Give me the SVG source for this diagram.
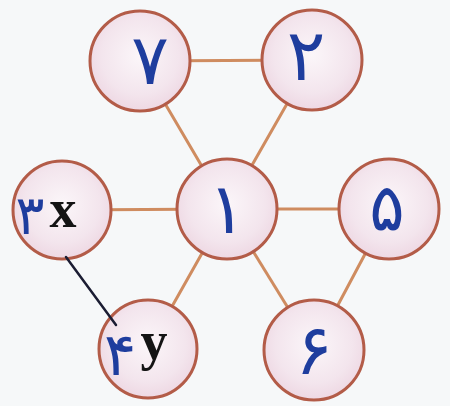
<svg xmlns="http://www.w3.org/2000/svg" width="450" height="406" viewBox="0 0 450 406">
  <defs>
    <radialGradient id="fillG" cx="50%" cy="45%" r="55%">
      <stop offset="0" stop-color="#fbf6f9"/>
      <stop offset="0.7" stop-color="#f3e5ed"/>
      <stop offset="1" stop-color="#eed8e3"/>
    </radialGradient>
    <style>
      .edge { stroke: #cf8c60; stroke-width: 3; fill: none; stroke-linecap: round; }
      .pen { stroke: #1b1d33; stroke-width: 2.5; fill: none; stroke-linecap: round; }
      .node { fill: url(#fillG); stroke: #b35c48; stroke-width: 3; }
      .digit { font-family: "DejaVu Sans", "Noto Sans", sans-serif; font-weight: normal; fill: #1e3d9e; text-anchor: middle; }
      .var { font-family: "Liberation Serif", "Times New Roman", serif; font-weight: bold; fill: #141414; text-anchor: middle; }
    </style>
  </defs>
  <rect width="450" height="406" fill="#f6f8f9"/>
  <g id="connectors">
    <line class="edge" x1="140" y1="61" x2="312" y2="60"/>
    <line class="edge" x1="140" y1="61" x2="227" y2="209"/>
    <line class="edge" x1="312" y1="60" x2="227" y2="209"/>
    <line class="edge" x1="62" y1="210" x2="227" y2="209"/>
    <line class="edge" x1="227" y1="209" x2="389" y2="209"/>
    <line class="edge" x1="227" y1="209" x2="148" y2="349"/>
    <line class="edge" x1="227" y1="209" x2="314" y2="350"/>
    <line class="edge" x1="389" y1="209" x2="314" y2="350"/>
  </g>
  <g id="node-7">
    <circle class="node" cx="140" cy="61" r="50"/>
    <text class="digit" x="150" y="84" font-size="70">۷</text>
  </g>
  <g id="node-2">
    <circle class="node" cx="312" cy="60" r="50"/>
    <text class="digit" x="306" y="80" font-size="72">۲</text>
  </g>
  <g id="node-3x">
    <circle class="node" cx="62" cy="210" r="49"/>
    <text class="digit" x="30" y="234" font-size="54">۳</text>
    <text class="var" x="63" y="227" font-size="54">x</text>
  </g>
  <g id="node-1">
    <circle class="node" cx="227" cy="209" r="50"/>
    <text class="digit" x="227" y="233" font-size="70">۱</text>
  </g>
  <g id="node-5">
    <circle class="node" cx="389" cy="209" r="50"/>
    <text class="digit" x="387" y="230" font-size="66">۵</text>
  </g>
  <g id="node-4y">
    <circle class="node" cx="148" cy="349" r="49"/>
    <text class="digit" x="120" y="375" font-size="60">۴</text>
    <text class="var" x="154" y="359" font-size="54">y</text>
  </g>
  <g id="node-6">
    <circle class="node" cx="314" cy="350" r="50"/>
    <text class="digit" x="314" y="374" font-size="70">۶</text>
  </g>
  <line class="pen" x1="66" y1="257" x2="116" y2="325"/>
</svg>
